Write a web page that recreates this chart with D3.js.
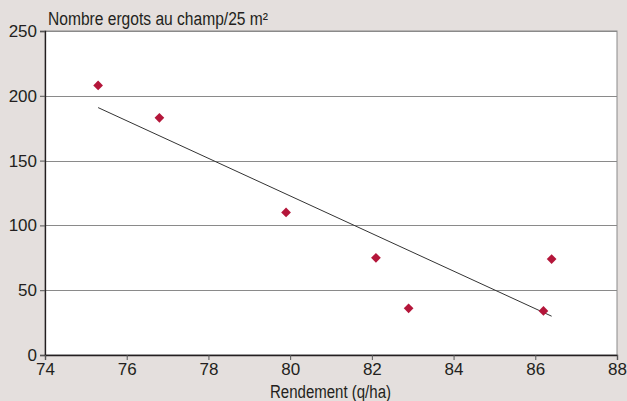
<!DOCTYPE html>
<html>
<head>
<meta charset="utf-8">
<script src="https://cdn.jsdelivr.net/npm/d3@7"></script>
<style>
  body { margin: 0; background: #e4dfdd; }
  svg { display: block; }
  text { font-family: "Liberation Sans Narrow", "Arial Narrow", "Liberation Sans", sans-serif; fill: #231f20; }
</style>
</head>
<body>
<script>
// rendement (q/ha) vs nombre d'ergots
const rendement = [75.3, 76.8, 79.9, 82.1, 82.9, 86.2, 86.4];
const ergots = [208, 183, 110, 75, 36, 34, 74];
const xTicks = [74, 76, 78, 80, 82, 84, 86, 88];
const yTicks = [0, 50, 100, 150, 200, 250];

const width = 627, height = 401;
const margin = {top: 31, right: 10, bottom: 46, left: 45};

const svg = d3.select("body").append("svg")
    .attr("width", width)
    .attr("height", height);

let x = d3.scaleLinear().domain([74, 88]).range([margin.left, width - margin.right]);
let y = d3.scaleLinear().domain([0, 250]).range([height - margin.bottom, margin.top]);

// plot area
svg.append("rect")
    .attr("x", x(74)).attr("y", y(250))
    .attr("width", x(88) - x(74)).attr("height", y(0) - y(250))
    .attr("fill", "#fff")
    .attr("stroke", "#8a8a8a");

// gridlines
svg.append("g")
    .selectAll("line")
    .data(yTicks.filter(d => d > 0))
    .join("line")
    .attr("x1", x(74)).attr("x2", x(88))
    .attr("y1", d => Math.round(y(d)) + 0.5).attr("y2", d => Math.round(y(d)) + 0.5)
    .attr("stroke", "#8a8a8a");

// axes
const yAxis = svg.append("g")
    .attr("transform", `translate(${x(74)},0)`)
    .call(d3.axisLeft(y).tickValues(yTicks).tickSize(5).tickPadding(3));
const xAxis = svg.append("g")
    .attr("transform", `translate(0,${y(0)})`)
    .call(d3.axisBottom(x).tickValues(xTicks).tickSize(5).tickPadding(3));

[yAxis, xAxis].forEach(a => {
    a.select(".domain").attr("stroke", "#231f20").attr("stroke-width", 1.3);
    a.selectAll(".tick line").attr("stroke", "#555");
    a.selectAll("text").style("font-size", "17px").attr("fill", "#231f20")
        .style("font-family", '"Liberation Sans Narrow", "Arial Narrow", sans-serif');
});

// trend line (least squares)
const mx = d3.mean(rendement), my = d3.mean(ergots);
const slope = d3.sum(rendement, (d, i) => (d - mx) * (ergots[i] - my)) /
    d3.sum(rendement, d => (d - mx) * (d - mx));
const fit = v => my + slope * (v - mx);
const [x0, x1] = d3.extent(rendement);
svg.append("line")
    .attr("x1", x(x0)).attr("y1", y(fit(x0)))
    .attr("x2", x(x1)).attr("y2", y(fit(x1)))
    .attr("stroke", "#333")
    .attr("stroke-width", 1);

// points
svg.append("g")
    .selectAll("path")
    .data(rendement.map((d, i) => [d, ergots[i]]))
    .join("path")
    .attr("d", d3.symbol(d3.symbolDiamond2, 60))
    .attr("transform", d => `translate(${x(d[0])},${y(d[1])})`)
    .attr("fill", "#b4163a");

// titles
svg.append("text")
    .attr("x", 48).attr("y", 25)
    .style("font-size", "18px")
    .attr("textLength", 220)
    .attr("lengthAdjust", "spacingAndGlyphs")
    .text("Nombre ergots au champ/25 m²");

svg.append("text")
    .attr("x", 270).attr("y", 398)
    .style("font-size", "18px")
    .attr("textLength", 121)
    .attr("lengthAdjust", "spacingAndGlyphs")
    .text("Rendement (q/ha)");
</script>
</body>
</html>
